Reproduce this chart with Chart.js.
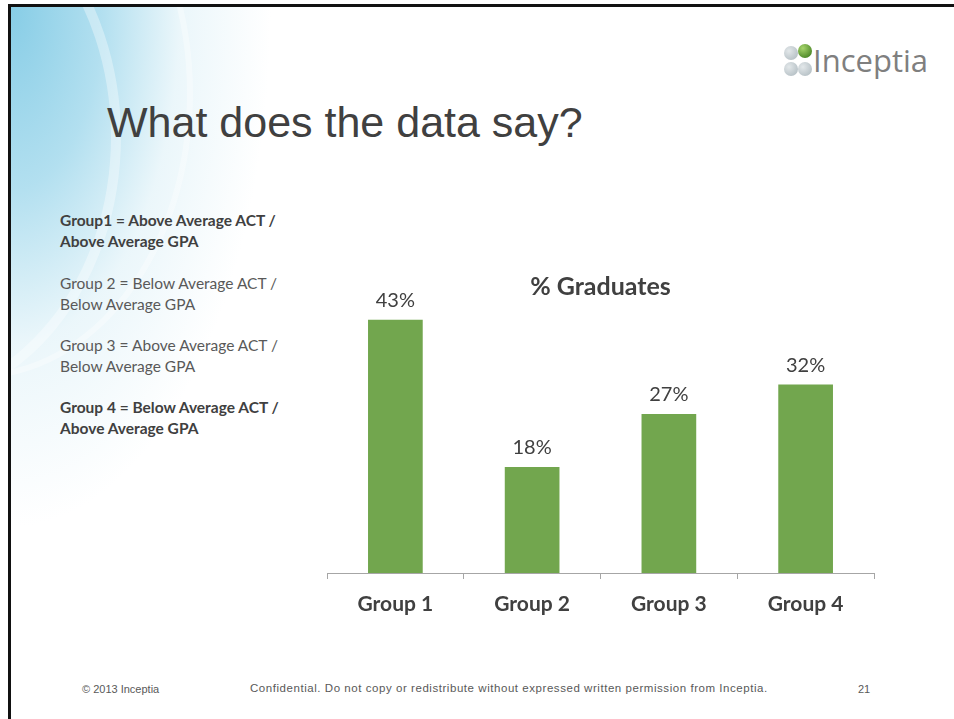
<!DOCTYPE html>
<html>
<head>
<meta charset="utf-8">
<script src="https://cdn.jsdelivr.net/npm/chart.js"></script>
<style>
  html, body { margin: 0; padding: 0; background: #fff; }
  #slide { position: relative; width: 954px; height: 719px; overflow: hidden; background: #fff; font-family: Lato, "Open Sans", sans-serif; }
  #frame { position: absolute; left: 8px; top: 4px; width: 960px; height: 730px; border-top: 3px solid #111; border-left: 3px solid #111; overflow: hidden; }
  #glow { position: absolute; left: 0; top: 0; width: 420px; height: 640px;
    background: radial-gradient(ellipse 260px 520px at 0 0, rgba(135,205,230,1) 0%, rgba(165,218,237,0.85) 35%, rgba(215,238,246,0.5) 65%, rgba(255,255,255,0) 100%); }
  .swoosh { position: absolute; border-radius: 50%; border: 10px solid rgba(255,255,255,0.35); }
  #title { position: absolute; left: 107px; top: 100px; font: 43px "Liberation Sans", Arial, sans-serif; color: #404040; line-height: 44px; white-space: nowrap; }
  #brand { position: absolute; left: 813px; top: 40px; font: 31px "Open Sans", sans-serif; color: #7f7f7f; line-height: 40px; }
  .dot { position: absolute; width: 14px; height: 14px; border-radius: 50%; background: radial-gradient(circle at 35% 35%, #e3e8ea, #aab6bc); }
  #green { background: radial-gradient(circle at 35% 30%, #a6d46b, #4f8a2a 75%); }
  .key { position: absolute; left: 60px; font-size: 15.5px; line-height: 21px; color: #595959; white-space: nowrap; }
  .key.b { font-weight: bold; color: #404040; }
  .foot { position: absolute; top: 683px; font: 11px "Liberation Sans", Arial, sans-serif; color: #595959; white-space: nowrap; }
  #chartBox { position: absolute; left: 300px; top: 262px; width: 601px; height: 371px; }
</style>
</head>
<body>
<div id="slide">
  <div id="frame">
    <div id="glow"></div>
    <div class="swoosh" style="left:-330px; top:-140px; width:420px; height:520px;"></div>
    <div class="swoosh" style="left:-250px; top:-200px; width:420px; height:560px; border-width:6px;"></div>
  </div>

  <div class="dot" style="left:784px; top:46px;"></div>
  <div class="dot" id="green" style="left:798px; top:44px;"></div>
  <div class="dot" style="left:784px; top:62px;"></div>
  <div class="dot" style="left:798px; top:62px;"></div>
  <div id="brand">Inceptia</div>

  <div id="title">What does the data say?</div>

  <div class="key b" style="top:210px;">Group1 = Above Average ACT /<br>Above Average GPA</div>
  <div class="key" style="top:273px;">Group 2 = Below Average ACT /<br>Below Average GPA</div>
  <div class="key" style="top:335px;">Group 3 = Above Average ACT /<br>Below Average GPA</div>
  <div class="key b" style="top:397px;">Group 4 = Below Average ACT /<br>Above Average GPA</div>

  <div id="chartBox"><canvas id="gradChart"></canvas></div>

  <div class="foot" style="left:82px;">© 2013 Inceptia</div>
  <div class="foot" style="left:250px; font-size:11.5px; letter-spacing:0.55px; top:682px;">Confidential. Do not copy or redistribute without expressed written permission from Inceptia.</div>
  <div class="foot" style="left:858px;">21</div>
</div>

<script>
// Chart data
const groups = ['Group 1', 'Group 2', 'Group 3', 'Group 4'];
const gradPercent = [43, 18, 27, 32];
const gradLabels = ['43%', '18%', '27%', '32%'];

// value labels above each bar
const valueLabels = {
    id: 'valueLabels',
    afterDatasetsDraw: function(chart) {
        const ctx = chart.ctx;
        const meta = chart.getDatasetMeta(0);
        ctx.save();
        ctx.font = '20px Lato';
        ctx.fillStyle = '#404040';
        ctx.textAlign = 'center';
        ctx.textBaseline = 'alphabetic';
        meta.data.forEach(function(bar, i) {
            ctx.fillText(gradLabels[i], bar.x, bar.y - 13);
        });
        ctx.restore();
    }
};

document.addEventListener('DOMContentLoaded', function() {
    const gradCtx = document.getElementById('gradChart');
    new Chart(gradCtx, {
        type: 'bar',
        data: {
            labels: groups,
            datasets: [{
                label: '% Graduates',
                data: gradPercent,
                backgroundColor: '#72a64e',
                borderWidth: 0,
                barPercentage: 0.4,
                categoryPercentage: 1.0
            }]
        },
        options: {
            responsive: true,
            maintainAspectRatio: false,
            animation: false,
            layout: {
                padding: { left: 27, right: 27, top: 0, bottom: 0 }
            },
            plugins: {
                legend: { display: false },
                tooltip: { enabled: false },
                title: {
                    display: true,
                    text: '% Graduates',
                    color: '#404040',
                    font: { family: 'Lato', size: 25, weight: 'bold' },
                    padding: { top: 9.5, bottom: 0 }
                }
            },
            scales: {
                x: {
                    grid: {
                        display: true,
                        offset: true,
                        drawOnChartArea: false,
                        drawTicks: true,
                        tickLength: 6,
                        color: '#a6a6a6'
                    },
                    border: { display: true, color: '#a6a6a6' },
                    ticks: {
                        color: '#404040',
                        font: { family: 'Lato', size: 21, weight: 'bold' },
                        padding: 13
                    },
                    afterFit: function(scale) { scale.height = 60; }
                },
                y: {
                    display: false,
                    min: 0,
                    max: 46.1
                }
            }
        },
        plugins: [valueLabels]
    });
});
</script>
</body>
</html>
